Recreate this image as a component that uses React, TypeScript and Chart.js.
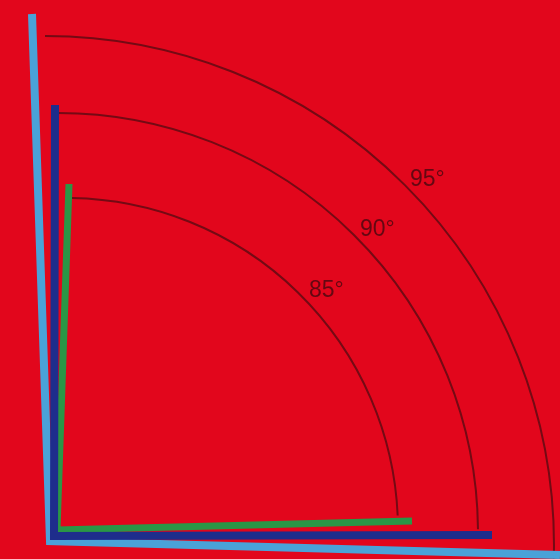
import { useEffect, useRef } from 'react';
import { Chart, registerables } from 'chart.js';

Chart.register(...registerables);

// Angle figures, in the chart's own data space (x right, y down)
const angleLabels = ['95°', '90°', '85°'];
const lightBlueArm = [
  { x: 32, y: 14 },
  { x: 50, y: 541 },
  { x: 560, y: 555 },
];
const darkBlueArm = [
  { x: 55, y: 105 },
  { x: 54, y: 536 },
  { x: 492, y: 535 },
];
const greenArm = [
  { x: 69, y: 184 },
  { x: 57, y: 530 },
  { x: 412, y: 521 },
];
const arcCenterX = [45, 58, 66];
const arcCenterY = [545, 533, 530];
const arcRadius = [509, 420, 332];
const arcStartDeg = [-90, -90, -89];
const arcEndDeg = [3, -0.5, -2.5];
const labelX = [410, 360, 309];
const labelY = [186, 236, 297];

const arcPlugin = {
  id: 'arcsAndLabels',
  beforeDatasetsDraw(chart: any) {
    const { ctx, scales } = chart;
    const xs = scales.x;
    const ys = scales.y;
    ctx.save();
    ctx.strokeStyle = '#740a14';
    ctx.lineWidth = 2;
    for (let i = 0; i < arcRadius.length; i++) {
      const cx = xs.getPixelForValue(arcCenterX[i]);
      const cy = ys.getPixelForValue(arcCenterY[i]);
      const r = xs.getPixelForValue(arcCenterX[i] + arcRadius[i]) - cx;
      ctx.beginPath();
      ctx.arc(cx, cy, r, (arcStartDeg[i] * Math.PI) / 180, (arcEndDeg[i] * Math.PI) / 180);
      ctx.stroke();
    }
    ctx.fillStyle = '#640812';
    ctx.font = '23px "Liberation Sans", Arial, sans-serif';
    ctx.textBaseline = 'alphabetic';
    ctx.textAlign = 'left';
    for (let i = 0; i < angleLabels.length; i++) {
      ctx.fillText(angleLabels[i], xs.getPixelForValue(labelX[i]), ys.getPixelForValue(labelY[i]));
    }
    ctx.restore();
  },
};

export default function App() {
  const ref = useRef<HTMLCanvasElement | null>(null);

  useEffect(() => {
    document.body.style.margin = '0';
    if (!ref.current) return;
    const chart = new Chart(ref.current, {
      type: 'scatter',
      data: {
        datasets: [
          {
            data: darkBlueArm,
            showLine: true,
            borderColor: '#1e2d8c',
            borderWidth: 8,
            pointRadius: 0,
            borderCapStyle: 'butt',
            borderJoinStyle: 'miter',
          },
          {
            data: greenArm,
            showLine: true,
            borderColor: '#2a9646',
            borderWidth: 7,
            pointRadius: 0,
            borderCapStyle: 'butt',
            borderJoinStyle: 'miter',
          },
          {
            data: lightBlueArm,
            showLine: true,
            borderColor: '#4aa2d8',
            borderWidth: 8,
            pointRadius: 0,
            borderCapStyle: 'butt',
            borderJoinStyle: 'miter',
          },
        ],
      } as any,
      options: {
        animation: false,
        responsive: true,
        maintainAspectRatio: false,
        layout: { padding: 0 },
        plugins: { legend: { display: false }, tooltip: { enabled: false } },
        events: [],
        scales: {
          x: { type: 'linear', min: 0, max: 560, display: false },
          y: { type: 'linear', min: 0, max: 559, reverse: true, display: false },
        },
      } as any,
      plugins: [arcPlugin],
    });
    return () => chart.destroy();
  }, []);

  return (
    <div style={{ width: 560, height: 559, position: 'relative', background: '#e2061c' }}>
      <canvas ref={ref} />
    </div>
  );
}
